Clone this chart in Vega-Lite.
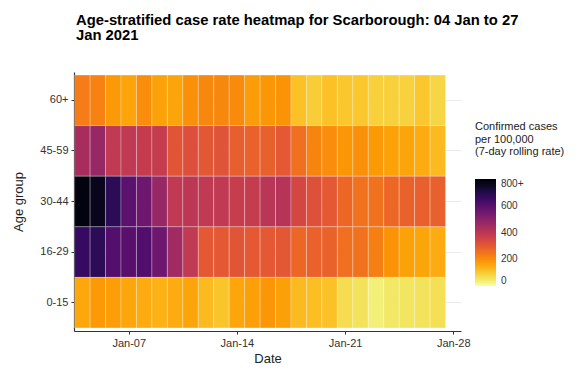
{
  "$schema": "https://vega.github.io/schema/vega-lite/v6.json",
  "autosize": "none",
  "padding": {"left": 74, "top": 72, "right": 120, "bottom": 41},
  "width": 387,
  "height": 259,
  "background": "white",
  "title": {
    "text": ["Age-stratified case rate heatmap for Scarborough: 04 Jan to 27", "Jan 2021"],
    "anchor": "start",
    "frame": "group",
    "dx": 2,
    "offset": 29.5,
    "font": "Liberation Sans",
    "fontSize": 14.8,
    "fontWeight": "bold",
    "color": "black",
    "lineHeight": 15
  },
  "data": {
    "values": [
      {"date": "2021-01-04T00:00:00", "age": "60+", "rate": 230},
      {"date": "2021-01-05T00:00:00", "age": "60+", "rate": 220},
      {"date": "2021-01-06T00:00:00", "age": "60+", "rate": 180},
      {"date": "2021-01-07T00:00:00", "age": "60+", "rate": 162},
      {"date": "2021-01-08T00:00:00", "age": "60+", "rate": 200},
      {"date": "2021-01-09T00:00:00", "age": "60+", "rate": 165},
      {"date": "2021-01-10T00:00:00", "age": "60+", "rate": 160},
      {"date": "2021-01-11T00:00:00", "age": "60+", "rate": 195},
      {"date": "2021-01-12T00:00:00", "age": "60+", "rate": 210},
      {"date": "2021-01-13T00:00:00", "age": "60+", "rate": 210},
      {"date": "2021-01-14T00:00:00", "age": "60+", "rate": 205},
      {"date": "2021-01-15T00:00:00", "age": "60+", "rate": 175},
      {"date": "2021-01-16T00:00:00", "age": "60+", "rate": 185},
      {"date": "2021-01-17T00:00:00", "age": "60+", "rate": 190},
      {"date": "2021-01-18T00:00:00", "age": "60+", "rate": 115},
      {"date": "2021-01-19T00:00:00", "age": "60+", "rate": 95},
      {"date": "2021-01-20T00:00:00", "age": "60+", "rate": 115},
      {"date": "2021-01-21T00:00:00", "age": "60+", "rate": 105},
      {"date": "2021-01-22T00:00:00", "age": "60+", "rate": 105},
      {"date": "2021-01-23T00:00:00", "age": "60+", "rate": 90},
      {"date": "2021-01-24T00:00:00", "age": "60+", "rate": 90},
      {"date": "2021-01-25T00:00:00", "age": "60+", "rate": 88},
      {"date": "2021-01-26T00:00:00", "age": "60+", "rate": 105},
      {"date": "2021-01-27T00:00:00", "age": "60+", "rate": 80},

      {"date": "2021-01-04T00:00:00", "age": "45-59", "rate": 440},
      {"date": "2021-01-05T00:00:00", "age": "45-59", "rate": 470},
      {"date": "2021-01-06T00:00:00", "age": "45-59", "rate": 390},
      {"date": "2021-01-07T00:00:00", "age": "45-59", "rate": 390},
      {"date": "2021-01-08T00:00:00", "age": "45-59", "rate": 380},
      {"date": "2021-01-09T00:00:00", "age": "45-59", "rate": 380},
      {"date": "2021-01-10T00:00:00", "age": "45-59", "rate": 310},
      {"date": "2021-01-11T00:00:00", "age": "45-59", "rate": 325},
      {"date": "2021-01-12T00:00:00", "age": "45-59", "rate": 305},
      {"date": "2021-01-13T00:00:00", "age": "45-59", "rate": 315},
      {"date": "2021-01-14T00:00:00", "age": "45-59", "rate": 290},
      {"date": "2021-01-15T00:00:00", "age": "45-59", "rate": 280},
      {"date": "2021-01-16T00:00:00", "age": "45-59", "rate": 285},
      {"date": "2021-01-17T00:00:00", "age": "45-59", "rate": 300},
      {"date": "2021-01-18T00:00:00", "age": "45-59", "rate": 255},
      {"date": "2021-01-19T00:00:00", "age": "45-59", "rate": 215},
      {"date": "2021-01-20T00:00:00", "age": "45-59", "rate": 200},
      {"date": "2021-01-21T00:00:00", "age": "45-59", "rate": 185},
      {"date": "2021-01-22T00:00:00", "age": "45-59", "rate": 195},
      {"date": "2021-01-23T00:00:00", "age": "45-59", "rate": 180},
      {"date": "2021-01-24T00:00:00", "age": "45-59", "rate": 165},
      {"date": "2021-01-25T00:00:00", "age": "45-59", "rate": 160},
      {"date": "2021-01-26T00:00:00", "age": "45-59", "rate": 150},
      {"date": "2021-01-27T00:00:00", "age": "45-59", "rate": 125},

      {"date": "2021-01-04T00:00:00", "age": "30-44", "rate": 780},
      {"date": "2021-01-05T00:00:00", "age": "30-44", "rate": 760},
      {"date": "2021-01-06T00:00:00", "age": "30-44", "rate": 680},
      {"date": "2021-01-07T00:00:00", "age": "30-44", "rate": 590},
      {"date": "2021-01-08T00:00:00", "age": "30-44", "rate": 555},
      {"date": "2021-01-09T00:00:00", "age": "30-44", "rate": 470},
      {"date": "2021-01-10T00:00:00", "age": "30-44", "rate": 390},
      {"date": "2021-01-11T00:00:00", "age": "30-44", "rate": 400},
      {"date": "2021-01-12T00:00:00", "age": "30-44", "rate": 390},
      {"date": "2021-01-13T00:00:00", "age": "30-44", "rate": 390},
      {"date": "2021-01-14T00:00:00", "age": "30-44", "rate": 375},
      {"date": "2021-01-15T00:00:00", "age": "30-44", "rate": 380},
      {"date": "2021-01-16T00:00:00", "age": "30-44", "rate": 405},
      {"date": "2021-01-17T00:00:00", "age": "30-44", "rate": 410},
      {"date": "2021-01-18T00:00:00", "age": "30-44", "rate": 345},
      {"date": "2021-01-19T00:00:00", "age": "30-44", "rate": 320},
      {"date": "2021-01-20T00:00:00", "age": "30-44", "rate": 300},
      {"date": "2021-01-21T00:00:00", "age": "30-44", "rate": 270},
      {"date": "2021-01-22T00:00:00", "age": "30-44", "rate": 250},
      {"date": "2021-01-23T00:00:00", "age": "30-44", "rate": 250},
      {"date": "2021-01-24T00:00:00", "age": "30-44", "rate": 270},
      {"date": "2021-01-25T00:00:00", "age": "30-44", "rate": 280},
      {"date": "2021-01-26T00:00:00", "age": "30-44", "rate": 285},
      {"date": "2021-01-27T00:00:00", "age": "30-44", "rate": 285},

      {"date": "2021-01-04T00:00:00", "age": "16-29", "rate": 660},
      {"date": "2021-01-05T00:00:00", "age": "16-29", "rate": 680},
      {"date": "2021-01-06T00:00:00", "age": "16-29", "rate": 605},
      {"date": "2021-01-07T00:00:00", "age": "16-29", "rate": 595},
      {"date": "2021-01-08T00:00:00", "age": "16-29", "rate": 610},
      {"date": "2021-01-09T00:00:00", "age": "16-29", "rate": 555},
      {"date": "2021-01-10T00:00:00", "age": "16-29", "rate": 455},
      {"date": "2021-01-11T00:00:00", "age": "16-29", "rate": 390},
      {"date": "2021-01-12T00:00:00", "age": "16-29", "rate": 300},
      {"date": "2021-01-13T00:00:00", "age": "16-29", "rate": 300},
      {"date": "2021-01-14T00:00:00", "age": "16-29", "rate": 310},
      {"date": "2021-01-15T00:00:00", "age": "16-29", "rate": 300},
      {"date": "2021-01-16T00:00:00", "age": "16-29", "rate": 300},
      {"date": "2021-01-17T00:00:00", "age": "16-29", "rate": 305},
      {"date": "2021-01-18T00:00:00", "age": "16-29", "rate": 270},
      {"date": "2021-01-19T00:00:00", "age": "16-29", "rate": 280},
      {"date": "2021-01-20T00:00:00", "age": "16-29", "rate": 280},
      {"date": "2021-01-21T00:00:00", "age": "16-29", "rate": 255},
      {"date": "2021-01-22T00:00:00", "age": "16-29", "rate": 250},
      {"date": "2021-01-23T00:00:00", "age": "16-29", "rate": 225},
      {"date": "2021-01-24T00:00:00", "age": "16-29", "rate": 190},
      {"date": "2021-01-25T00:00:00", "age": "16-29", "rate": 165},
      {"date": "2021-01-26T00:00:00", "age": "16-29", "rate": 160},
      {"date": "2021-01-27T00:00:00", "age": "16-29", "rate": 150},

      {"date": "2021-01-04T00:00:00", "age": "0-15", "rate": 155},
      {"date": "2021-01-05T00:00:00", "age": "0-15", "rate": 180},
      {"date": "2021-01-06T00:00:00", "age": "0-15", "rate": 172},
      {"date": "2021-01-07T00:00:00", "age": "0-15", "rate": 158},
      {"date": "2021-01-08T00:00:00", "age": "0-15", "rate": 150},
      {"date": "2021-01-09T00:00:00", "age": "0-15", "rate": 140},
      {"date": "2021-01-10T00:00:00", "age": "0-15", "rate": 150},
      {"date": "2021-01-11T00:00:00", "age": "0-15", "rate": 160},
      {"date": "2021-01-12T00:00:00", "age": "0-15", "rate": 125},
      {"date": "2021-01-13T00:00:00", "age": "0-15", "rate": 110},
      {"date": "2021-01-14T00:00:00", "age": "0-15", "rate": 158},
      {"date": "2021-01-15T00:00:00", "age": "0-15", "rate": 170},
      {"date": "2021-01-16T00:00:00", "age": "0-15", "rate": 185},
      {"date": "2021-01-17T00:00:00", "age": "0-15", "rate": 168},
      {"date": "2021-01-18T00:00:00", "age": "0-15", "rate": 125},
      {"date": "2021-01-19T00:00:00", "age": "0-15", "rate": 120},
      {"date": "2021-01-20T00:00:00", "age": "0-15", "rate": 115},
      {"date": "2021-01-21T00:00:00", "age": "0-15", "rate": 70},
      {"date": "2021-01-22T00:00:00", "age": "0-15", "rate": 58},
      {"date": "2021-01-23T00:00:00", "age": "0-15", "rate": 35},
      {"date": "2021-01-24T00:00:00", "age": "0-15", "rate": 50},
      {"date": "2021-01-25T00:00:00", "age": "0-15", "rate": 55},
      {"date": "2021-01-26T00:00:00", "age": "0-15", "rate": 58},
      {"date": "2021-01-27T00:00:00", "age": "0-15", "rate": 65}
    ]
  },
  "mark": {"type": "rect", "width": 15.45, "stroke": "white", "strokeWidth": 0.6, "strokeOpacity": 0.45, "zindex": 1},
  "encoding": {
    "x": {
      "field": "date",
      "type": "temporal",
      "title": "Date",
      "scale": {
        "domain": [
          {"year": 2021, "month": 1, "date": 3, "hours": 11},
          {"year": 2021, "month": 1, "date": 28, "hours": 12}
        ],
        "nice": false
      },
      "axis": {
        "values": [
          {"year": 2021, "month": 1, "date": 7},
          {"year": 2021, "month": 1, "date": 14},
          {"year": 2021, "month": 1, "date": 21},
          {"year": 2021, "month": 1, "date": 28}
        ],
        "format": "%b-%d",
        "grid": false,
        "labelFont": "Liberation Sans",
        "labelFontSize": 11,
        "labelColor": "#333333",
        "labelPadding": 3,
        "tickColor": "#333333",
        "tickSize": 3,
        "domainColor": "#333333",
        "domainWidth": 1.2,
        "titleFont": "Liberation Sans",
        "titleFontSize": 13,
        "titleFontWeight": "normal",
        "titleColor": "#222222",
        "titlePadding": 4
      }
    },
    "y": {
      "field": "age",
      "type": "nominal",
      "title": "Age group",
      "sort": ["60+", "45-59", "30-44", "16-29", "0-15"],
      "scale": {"paddingInner": 0, "paddingOuter": 0.06},
      "axis": {
        "zindex": 0,
        "grid": true,
        "gridColor": "#ebebeb",
        "labelFont": "Liberation Sans",
        "labelFontSize": 11,
        "labelColor": "#333333",
        "labelPadding": 3,
        "tickColor": "#333333",
        "tickSize": 3,
        "domainColor": "#333333",
        "domainWidth": 1.2,
        "titleFont": "Liberation Sans",
        "titleFontSize": 13,
        "titleFontWeight": "normal",
        "titleColor": "#222222",
        "titlePadding": 14
      }
    },
    "color": {
      "field": "rate",
      "type": "quantitative",
      "scale": {"scheme": "inferno", "reverse": true, "domain": [0, 800], "clamp": true},
      "legend": {
        "title": ["Confirmed cases", "\u00a0per 100,000", "\u00a0(7-day rolling rate)"],
        "orient": "none",
        "legendX": 401,
        "legendY": 49,
        "direction": "vertical",
        "gradientLength": 107,
        "gradientThickness": 21,
        "values": [0, 200, 400, 600, 800],
        "labelExpr": "datum.value >= 800 ? '800+' : datum.label",
        "labelFont": "Liberation Sans",
        "labelFontSize": 10,
        "labelColor": "#333333",
        "labelOffset": 5,
        "titleFont": "Liberation Sans",
        "titleFontSize": 11,
        "titleFontWeight": "normal",
        "titleColor": "#222222",
        "titleLineHeight": 12.5,
        "titlePadding": 22
      }
    }
  },
  "config": {"view": {"stroke": null}}
}
